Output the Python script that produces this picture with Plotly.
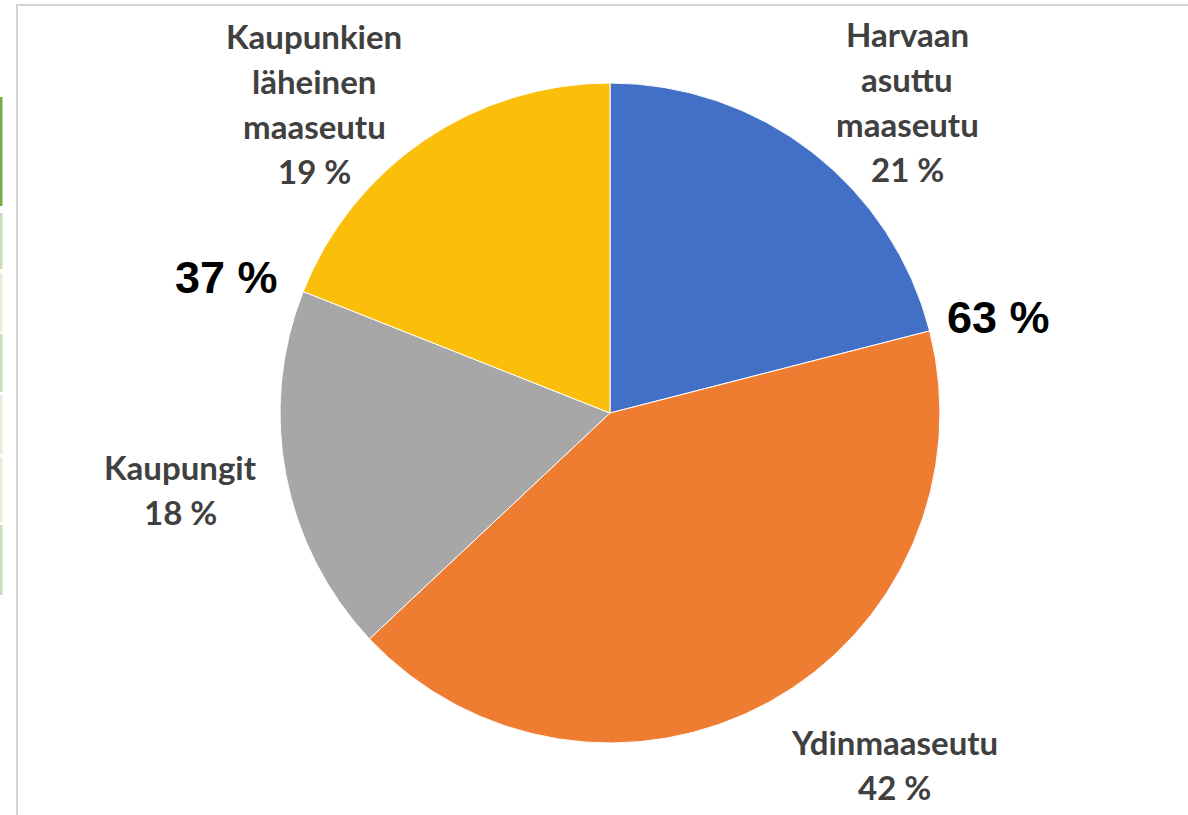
import plotly.graph_objects as go

W, H = 1188, 815

# ---- data ----
categories = ["Harvaan asuttu maaseutu", "Ydinmaaseutu", "Kaupungit", "Kaupunkien läheinen maaseutu"]
values = [21, 42, 18, 19]
label_lines = [["Harvaan", "asuttu", "maaseutu"], ["Ydinmaaseutu"], ["Kaupungit"], ["Kaupunkien", "läheinen", "maaseutu"]]
group_labels = ["63 %", "37 %"]
colors = ["#4170C6", "#EF7D31", "#A7A7A7", "#FBBE0A"]

# pie geometry (pixels)
cx, cy, r = 610, 413, 330

fig = go.Figure(go.Pie(
    labels=categories, values=values, sort=False, direction="clockwise", rotation=0,
    marker=dict(colors=colors, line=dict(color="white", width=1)),
    textinfo="none", hoverinfo="label+percent", showlegend=False,
    domain=dict(x=[(cx - r) / W, (cx + r) / W], y=[(H - cy - r) / H, (H - cy + r) / H]),
))

def px(x):
    return x / W

def py(y):
    return 1 - y / H

# label positions: (center x, first baseline y) per category
label_pos = [(907, 45), (894, 753), (180, 478), (314, 47)]
line_gap = 45
fs = 33
ann = []
for lines, v, (lx, ly) in zip(label_lines, values, label_pos):
    all_lines = lines + [f"{v} %"]
    for i, t in enumerate(all_lines):
        ann.append(dict(x=px(lx), y=py(ly + i * line_gap - 11), xref="paper", yref="paper",
                        text=f"<b>{t}</b>", showarrow=False, xanchor="center", yanchor="middle",
                        font=dict(family="Lato", size=fs, color="#404040")))

for t, (gx, gy) in zip(group_labels, [(998, 317), (226, 277)]):
    ann.append(dict(x=px(gx), y=py(gy), xref="paper", yref="paper", text=f"<b>{t}</b>",
                    showarrow=False, xanchor="center", yanchor="middle",
                    font=dict(family="Liberation Sans, Arial", size=45, color="#000000")))

shapes = [
    dict(type="rect", xref="paper", yref="paper", x0=px(17), x1=px(1200), y0=py(830), y1=py(5),
         line=dict(color="#d4d4d4", width=2), fillcolor="rgba(0,0,0,0)"),
    dict(type="rect", xref="paper", yref="paper", x0=0, x1=px(2.5), y0=py(206), y1=py(97),
         line=dict(width=0), fillcolor="#70AD47"),
]
segs = [(213, 269, "#C5E0B4"), (273, 332, "#E2F0D9"), (334, 392, "#C5E0B4"),
        (395, 454, "#E2F0D9"), (457, 522, "#E2F0D9"), (525, 595, "#C5E0B4")]
for a, b, c in segs:
    shapes.append(dict(type="rect", xref="paper", yref="paper", x0=0, x1=px(2.5), y0=py(b), y1=py(a),
                       line=dict(width=0), fillcolor=c))

fig.update_layout(width=W, height=H, margin=dict(l=0, r=0, t=0, b=0),
                  paper_bgcolor="white", plot_bgcolor="white",
                  annotations=ann, shapes=shapes)

fig.write_html("out.html", config={"displayModeBar": False},
               post_script="document.body.style.margin='0px';document.body.style.overflow='hidden';")
